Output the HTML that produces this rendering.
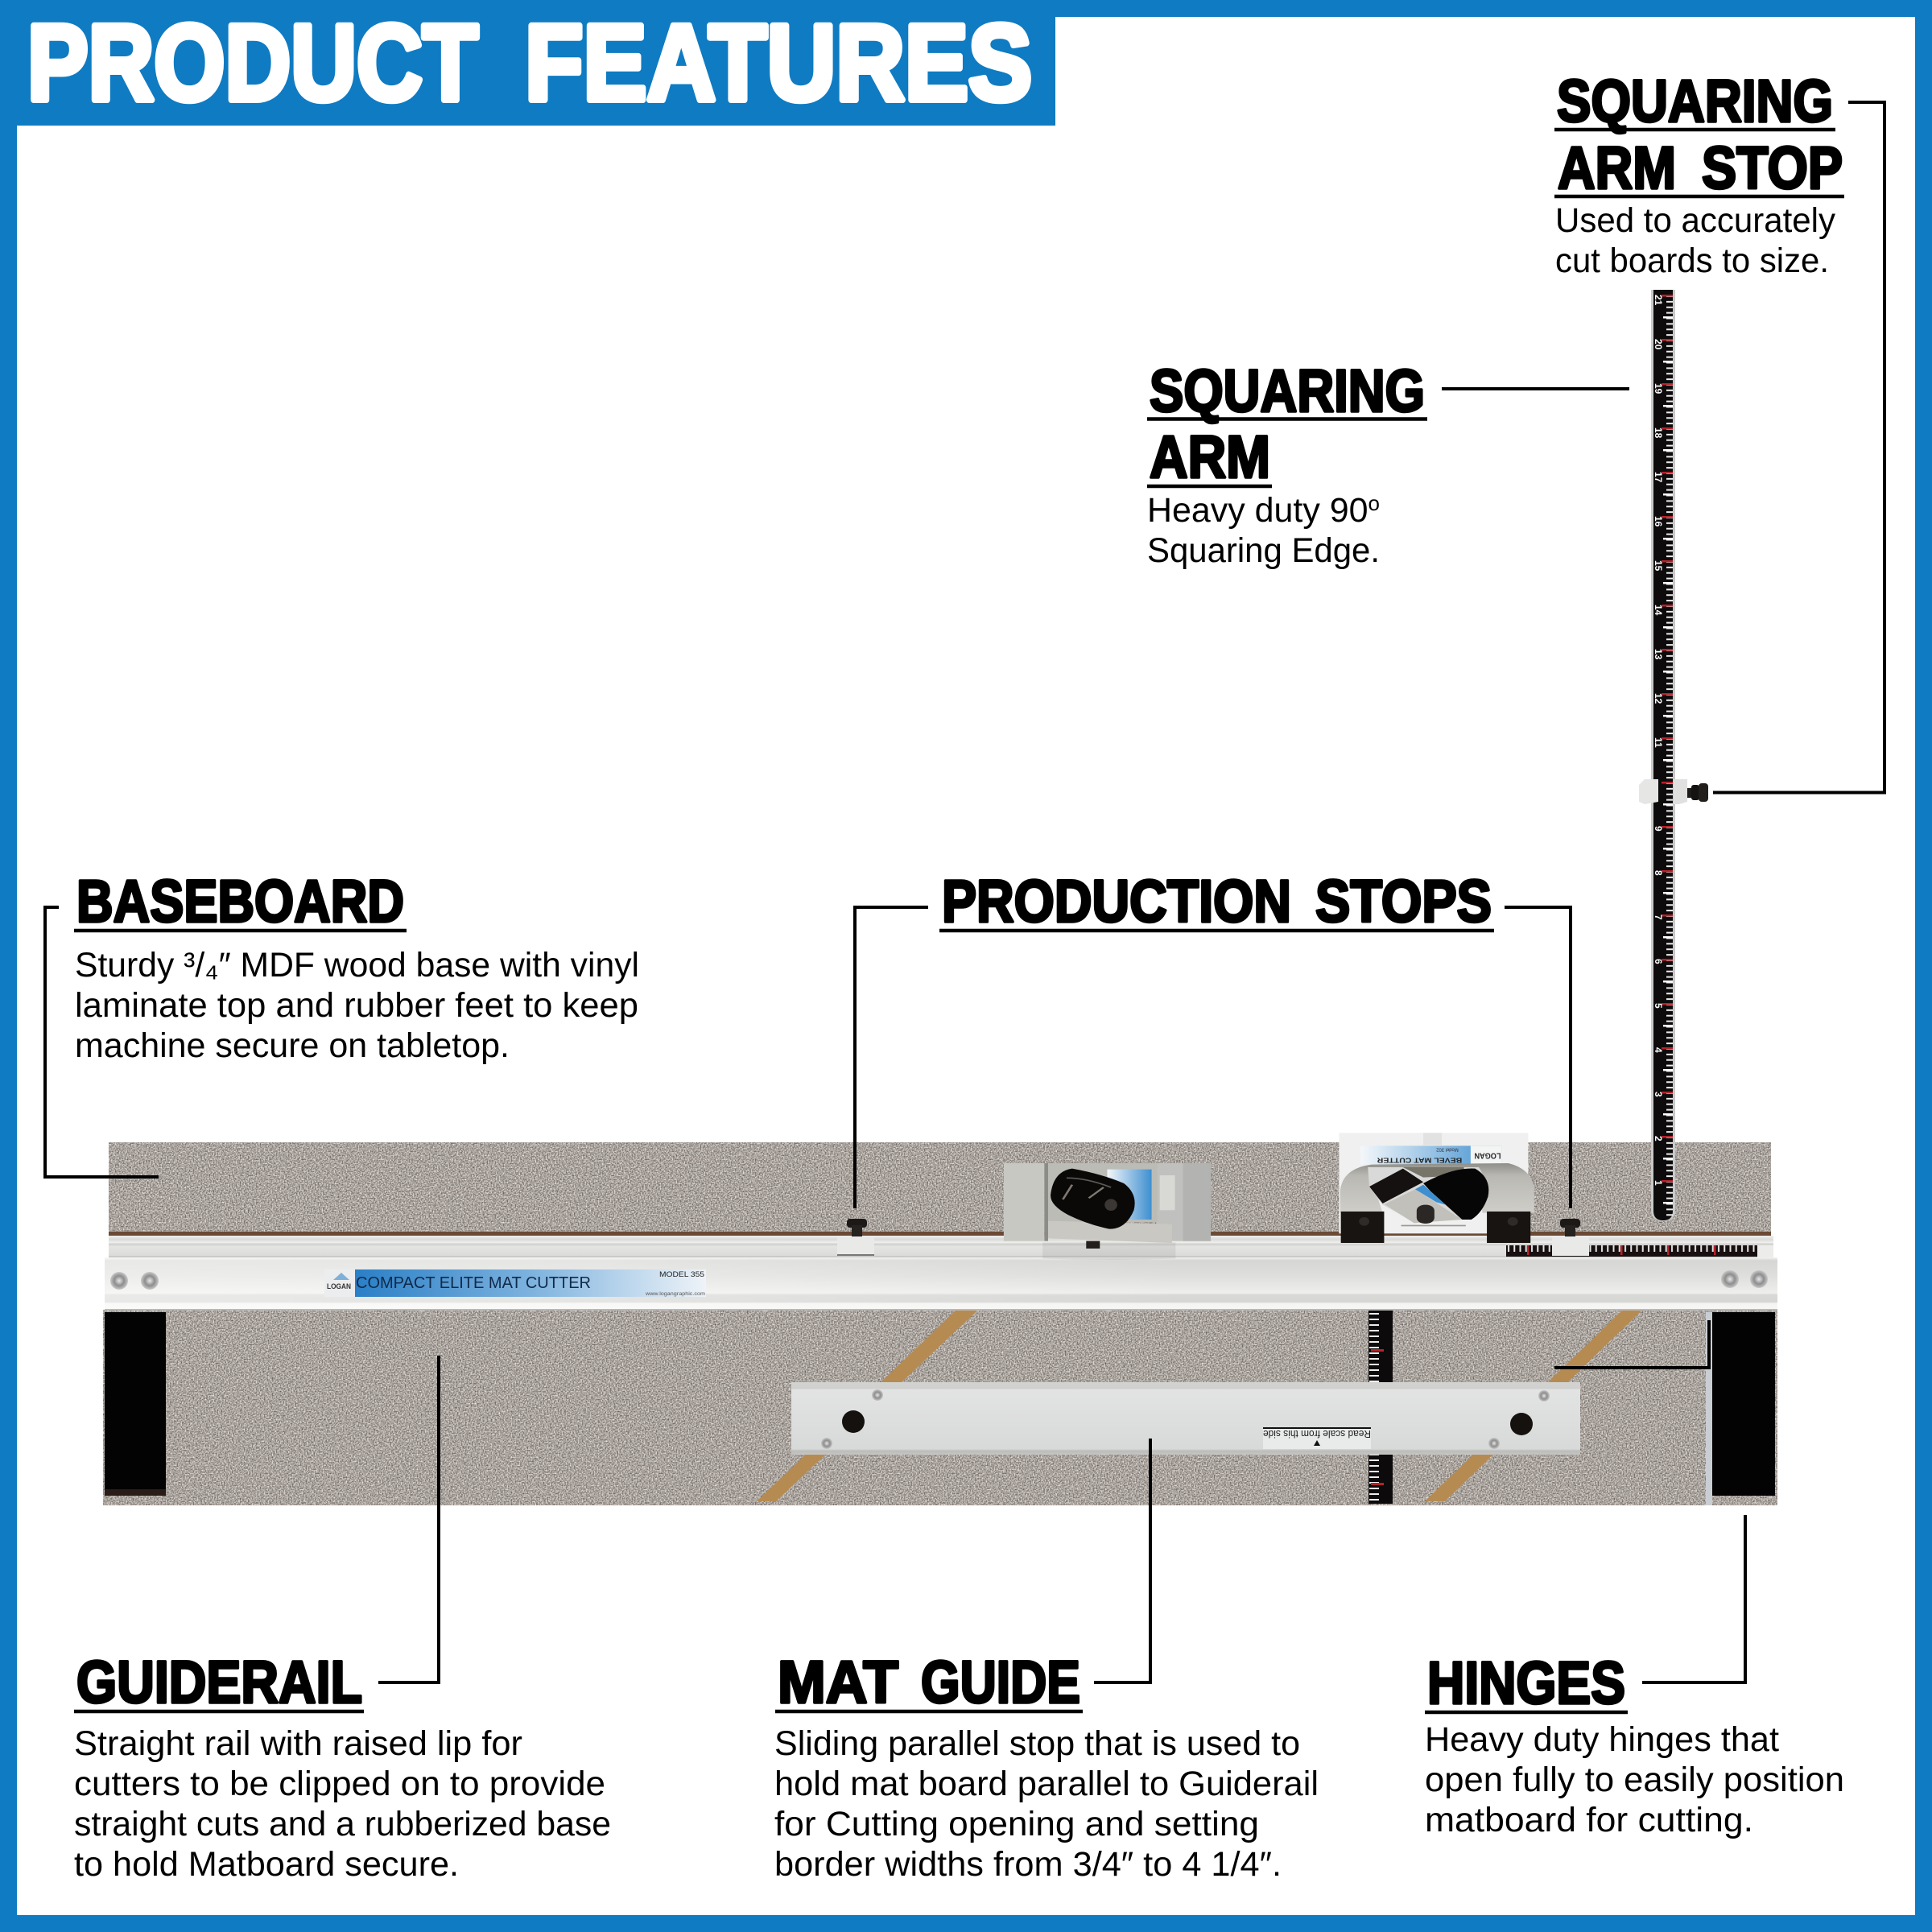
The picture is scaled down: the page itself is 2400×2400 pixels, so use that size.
<!DOCTYPE html>
<html><head><meta charset="utf-8"><title>Product Features</title>
<style>
html,body{margin:0;padding:0;background:#fff}
svg{display:block}
.h{font-family:"Liberation Sans",sans-serif;font-weight:700;font-size:74px;fill:#000;stroke:#000;stroke-width:3.5;stroke-linejoin:round}
.t{font-family:"Liberation Sans",sans-serif;font-weight:700;font-size:134px;fill:#fff;stroke:#fff;stroke-width:8;stroke-linejoin:round}
.b{font-family:"Liberation Sans",sans-serif;font-size:43px;fill:#000}
.c{fill:none;stroke:#000;stroke-width:4}
.u{stroke:#000;stroke-width:4.5}
.n{font-family:"Liberation Sans",sans-serif;font-weight:700;font-size:12px;fill:#fff}
</style></head><body>
<svg xmlns="http://www.w3.org/2000/svg" width="2400" height="2400" viewBox="0 0 2400 2400">
<defs>
<filter id="gr" x="0" y="0" width="1" height="1" color-interpolation-filters="sRGB">
<feTurbulence type="fractalNoise" baseFrequency="0.6" numOctaves="2" seed="4"/>
<feColorMatrix type="matrix" values="0.9 0 0 0 0.215  0.9 0 0 0 0.19  0.9 0 0 0 0.17  0 0 0 0 1"/>
</filter>
<pattern id="vt" width="24" height="6.875" patternUnits="userSpaceOnUse" x="2054" y="366"><rect x="16" y="1" width="8" height="2" fill="#eee"/></pattern>
<pattern id="vM" width="24" height="55" patternUnits="userSpaceOnUse" x="2054" y="366"><rect x="10" y="0" width="14" height="2.5" fill="#b5232a"/><rect x="12" y="27" width="12" height="2.5" fill="#fff"/></pattern>
<pattern id="ht" width="7.25" height="14" patternUnits="userSpaceOnUse" x="1871" y="1547"><rect x="2" y="0" width="2" height="8" fill="#e8e8e8"/></pattern>
<pattern id="hM" width="58" height="14" patternUnits="userSpaceOnUse" x="1871" y="1547"><rect x="26" y="0" width="2.5" height="12" fill="#b5232a"/></pattern>
<pattern id="ct" width="30" height="7" patternUnits="userSpaceOnUse" x="1700" y="1630"><rect x="1" y="1" width="12" height="2" fill="#eee"/></pattern>
<linearGradient id="rail" x1="0" y1="0" x2="0" y2="1">
<stop offset="0" stop-color="#f3f3f1"/><stop offset=".06" stop-color="#d6d6d4"/><stop offset=".35" stop-color="#dededc"/><stop offset=".68" stop-color="#eeeeec"/><stop offset=".72" stop-color="#d8d8d6"/><stop offset=".85" stop-color="#d6d6d4"/><stop offset=".88" stop-color="#f4f4f2"/><stop offset="1" stop-color="#f7f7f5"/>
</linearGradient>
<linearGradient id="railH" x1="0" y1="0" x2="1" y2="0">
<stop offset="0" stop-color="#fff" stop-opacity=".45"/><stop offset=".3" stop-color="#fff" stop-opacity=".35"/><stop offset=".65" stop-color="#fff" stop-opacity="0"/><stop offset="1" stop-color="#fff" stop-opacity="0"/>
</linearGradient>
<linearGradient id="up" x1="0" y1="0" x2="0" y2="1">
<stop offset="0" stop-color="#efefed"/><stop offset=".18" stop-color="#dadad8"/><stop offset=".32" stop-color="#f0f0ee"/><stop offset=".38" stop-color="#cfcfcd"/><stop offset=".5" stop-color="#e4e4e2"/><stop offset=".9" stop-color="#dcdcda"/><stop offset="1" stop-color="#bdbdbb"/>
</linearGradient>
<linearGradient id="lab" x1="0" y1="0" x2="1" y2="0">
<stop offset="0" stop-color="#2a7fc6"/><stop offset=".5" stop-color="#7db2de"/><stop offset="1" stop-color="#eef3f8"/>
</linearGradient>
<linearGradient id="card" x1="0" y1="0" x2="1" y2="0"><stop offset="0" stop-color="#f4f7fa"/><stop offset="1" stop-color="#3d8fd0"/></linearGradient>
<linearGradient id="guide" x1="0" y1="0" x2="0" y2="1">
<stop offset="0" stop-color="#d3d3d1"/><stop offset=".09" stop-color="#d0d0ce"/><stop offset=".1" stop-color="#e2e3e3"/><stop offset=".92" stop-color="#d8d9d9"/><stop offset=".95" stop-color="#bcbcba"/><stop offset="1" stop-color="#c6c6c4"/>
</linearGradient>
<radialGradient id="scr"><stop offset="0" stop-color="#e8e8e8"/><stop offset=".55" stop-color="#8d8d8d"/><stop offset="1" stop-color="#c8c8c8"/></radialGradient>
<linearGradient id="arch" x1="0" y1="0" x2="0" y2="1"><stop offset="0" stop-color="#8f8e88"/><stop offset=".25" stop-color="#b9b8b2"/><stop offset="1" stop-color="#cfcec9"/></linearGradient>
</defs>

<!-- frame -->
<rect x="0" y="0" width="2400" height="2400" fill="#0f7bc2"/>
<rect x="21" y="21" width="2358" height="2358" fill="#fff"/>
<rect x="0" y="0" width="1311" height="156" fill="#0f7bc2"/>
<text class="t" x="34" y="124" textLength="560" lengthAdjust="spacingAndGlyphs">PRODUCT</text>
<text class="t" x="652" y="124" textLength="630" lengthAdjust="spacingAndGlyphs">FEATURES</text>

<!-- upper board -->
<rect x="135" y="1419" width="2065" height="115" fill="#a9a29d" filter="url(#gr)"/>
<rect x="135" y="1530" width="2065" height="6" fill="#6b4a35"/>
<!-- lower board -->
<rect x="128" y="1627" width="2080" height="243" fill="#a9a29d" filter="url(#gr)"/>

<!-- vertical ruler -->
<path d="M2051 360 H2081 V1503 Q2081 1517 2066 1517 Q2051 1517 2051 1503Z" fill="#c9c9c9"/>
<path d="M2054 360 H2078 V1504 Q2078 1516 2066 1516 Q2054 1516 2054 1504Z" fill="#0d0b0c"/>
<rect x="2054" y="366" width="24" height="1145" fill="url(#vt)"/>
<rect x="2054" y="366" width="24" height="1145" fill="url(#vM)"/>
<g class="n">
<text transform="translate(2056 366) rotate(90)">21</text><text transform="translate(2056 421) rotate(90)">20</text><text transform="translate(2056 476) rotate(90)">19</text><text transform="translate(2056 531) rotate(90)">18</text><text transform="translate(2056 586) rotate(90)">17</text><text transform="translate(2056 641) rotate(90)">16</text><text transform="translate(2056 696) rotate(90)">15</text><text transform="translate(2056 751) rotate(90)">14</text><text transform="translate(2056 806) rotate(90)">13</text><text transform="translate(2056 861) rotate(90)">12</text><text transform="translate(2056 916) rotate(90)">11</text><text transform="translate(2056 1026) rotate(90)">9</text><text transform="translate(2056 1081) rotate(90)">8</text><text transform="translate(2056 1136) rotate(90)">7</text><text transform="translate(2056 1191) rotate(90)">6</text><text transform="translate(2056 1246) rotate(90)">5</text><text transform="translate(2056 1301) rotate(90)">4</text><text transform="translate(2056 1356) rotate(90)">3</text><text transform="translate(2056 1411) rotate(90)">2</text><text transform="translate(2056 1466) rotate(90)">1</text>
</g>
<!-- squaring arm stop -->
<path d="M2036 975 L2043 968 H2060 V996 L2043 999 L2036 996Z" fill="#e6e6e4"/>
<path d="M2079 968 H2096 V996 L2086 999 H2079Z" fill="#e0e0de"/>
<rect x="2096" y="979" width="9" height="12" fill="#1d1a18"/>
<rect x="2101" y="975" width="10" height="19" rx="3" fill="#151311"/>
<rect x="2110" y="973" width="12" height="23" rx="4" fill="#221e1b"/>

<!-- upper rail -->
<rect x="135" y="1535" width="2068" height="27" fill="url(#up)"/>
<!-- rail ruler -->
<rect x="1871" y="1547" width="312" height="14" fill="#170f10"/>
<rect x="1871" y="1547" width="312" height="14" fill="url(#ht)"/>
<rect x="1871" y="1547" width="312" height="14" fill="url(#hM)"/>
<rect x="2183" y="1547" width="20" height="15" fill="#ececea"/>
<!-- main rail -->
<rect x="130" y="1562" width="2078" height="65" fill="url(#rail)"/>
<rect x="130" y="1562" width="2078" height="65" fill="url(#railH)"/>
<rect x="130" y="1626" width="2078" height="2" fill="#b9b9b7"/>

<!-- rail screws -->
<ellipse cx="148" cy="1591" rx="11" ry="11" fill="url(#scr)"/><ellipse cx="186" cy="1591" rx="11" ry="11" fill="url(#scr)"/>
<ellipse cx="2149" cy="1589" rx="11" ry="11" fill="url(#scr)"/><ellipse cx="2185" cy="1589" rx="11" ry="11" fill="url(#scr)"/>

<!-- rail label -->
<rect x="403" y="1577" width="38" height="34" fill="#ecedef"/>
<path d="M414 1590 L424 1581 L434 1590Z" fill="#7fb0d8"/>
<text x="406" y="1601" font-family="Liberation Sans,sans-serif" font-weight="700" font-size="9" fill="#333" textLength="30" lengthAdjust="spacingAndGlyphs">LOGAN</text>
<rect x="441" y="1577" width="436" height="34" fill="url(#lab)"/>
<text x="442" y="1600" font-family="Liberation Sans,sans-serif" font-size="20" fill="#0f2a4a" textLength="292" lengthAdjust="spacingAndGlyphs">COMPACT ELITE MAT CUTTER</text>
<text x="819" y="1586" font-family="Liberation Sans,sans-serif" font-size="9" fill="#222" textLength="56" lengthAdjust="spacingAndGlyphs">MODEL 355</text>
<text x="802" y="1609" font-family="Liberation Sans,sans-serif" font-size="6" fill="#555" textLength="74" lengthAdjust="spacingAndGlyphs">www.logangraphic.com</text>

<!-- production stops -->
<rect x="1052" y="1514" width="25" height="11" rx="4" fill="#1c1917"/><rect x="1058" y="1522" width="13" height="14" fill="#26221f"/>
<rect x="1040" y="1536" width="46" height="24" fill="#e9e9e7"/><rect x="1040" y="1558" width="46" height="2" fill="#777"/>
<rect x="1938" y="1514" width="25" height="11" rx="4" fill="#1c1917"/><rect x="1944" y="1522" width="13" height="14" fill="#26221f"/>
<rect x="1928" y="1536" width="46" height="24" fill="#e9e9e7"/>

<!-- hinges -->
<rect x="130" y="1630" width="76" height="228" fill="#040303"/>
<rect x="130" y="1850" width="76" height="8" fill="#2a1d18"/>
<rect x="2119" y="1630" width="8" height="240" fill="#c9ced2"/>
<rect x="2127" y="1630" width="78" height="228" fill="#040303"/>

<!-- wood strips -->
<polygon points="1187,1628 1214,1628 964,1865 940,1865" fill="#b68b52"/>
<polygon points="2015,1628 2039,1628 1795,1865 1770,1865" fill="#b68b52"/>

<!-- center scale -->
<rect x="1700" y="1628" width="30" height="240" fill="#0c0a0b"/>
<rect x="1700" y="1630" width="30" height="236" fill="url(#ct)"/>
<rect x="1703" y="1676" width="16" height="3" fill="#b5232a"/><rect x="1703" y="1842" width="16" height="3" fill="#b5232a"/>

<!-- mat guide -->
<rect x="983" y="1717" width="980" height="90" fill="url(#guide)"/>
<ellipse cx="1060" cy="1766" rx="14" ry="14" fill="#15110f"/>
<ellipse cx="1890" cy="1769" rx="14" ry="14" fill="#15110f"/>
<circle cx="1090" cy="1733" r="7" fill="url(#scr)"/><circle cx="1027" cy="1793" r="7" fill="url(#scr)"/>
<circle cx="1918" cy="1734" r="7" fill="url(#scr)"/><circle cx="1856" cy="1793" r="7" fill="url(#scr)"/>
<rect x="1569" y="1773" width="134" height="27" fill="#e9eaea"/>
<rect x="1569" y="1773" width="134" height="2" fill="#111"/>
<text transform="translate(1703 1777) rotate(180)" font-family="Liberation Sans,sans-serif" font-size="13" fill="#222" textLength="134" lengthAdjust="spacingAndGlyphs">Read scale from this side</text>
<polygon points="1636,1789 1640,1796 1632,1796" fill="#111"/>

<!-- left cutter (zoom coords) -->
<g transform="translate(1240 1400) scale(.4592 .3333)">
<path d="M120 430 H480 V490 Q300 500 120 490Z" fill="#777" opacity=".14"/>
<rect x="15" y="135" width="110" height="290" fill="#c8c8c3"/>
<rect x="125" y="135" width="10" height="290" fill="#8b8b87"/>
<rect x="135" y="135" width="295" height="220" fill="#bcbcb7"/>
<rect x="295" y="158" width="120" height="187" fill="url(#card)"/>
<rect x="430" y="135" width="145" height="290" fill="#c0c1be"/>
<rect x="500" y="135" width="75" height="290" fill="#b3b4b2"/>
<rect x="437" y="180" width="41" height="130" fill="#d8d8d4"/>
<path d="M135 350 L470 362 V432 L135 415Z" fill="#c9c8c2"/>
<rect x="238" y="425" width="37" height="28" fill="#231f1c"/>
<path d="M142 250 Q150 165 200 155 Q280 175 340 210 Q378 250 367 310 Q345 382 300 380 Q240 362 190 328 Q138 290 142 250Z" fill="#0b0908"/>
<path d="M185 190 Q240 190 305 225" stroke="#5a5a56" stroke-width="5" fill="none"/>
<path d="M175 270 L200 215 M245 265 L285 225" stroke="#7f7a73" stroke-width="6" fill="none"/>
<ellipse cx="305" cy="290" rx="17" ry="22" fill="#3a3735"/>
</g>

<!-- right cutter (zoom coords) -->
<g transform="translate(1240 1400) scale(.4592 .3333)">
<rect x="922" y="22" width="512" height="375" fill="#eff0ef"/>
<rect x="1150" y="22" width="50" height="45" fill="#e1e2e1"/>
<rect x="980" y="70" width="382" height="70" fill="url(#card)"/>
<rect x="1278" y="70" width="84" height="70" fill="#f3f4f4"/>
<text transform="translate(1360 98) rotate(180)" font-family="Liberation Sans,sans-serif" font-weight="700" font-size="30" fill="#222" textLength="72" lengthAdjust="spacingAndGlyphs">LOGAN</text>
<text transform="translate(1255 115) rotate(180)" font-family="Liberation Sans,sans-serif" font-weight="700" font-size="24" fill="#222" textLength="230" lengthAdjust="spacingAndGlyphs">BEVEL MAT CUTTER</text>
<text transform="translate(1245 80) rotate(180)" font-family="Liberation Sans,sans-serif" font-size="18" fill="#334" textLength="60" lengthAdjust="spacingAndGlyphs">Model 302</text>
<path d="M925 320 V240 Q930 155 1010 140 L1380 135 Q1440 155 1450 225 V320 H1310 L1290 150 H1000 L1040 320Z" fill="url(#arch)"/>
<path d="M1000 150 H1300 Q1325 200 1320 270 Q1300 330 1250 345 L1125 355 L1040 290 L1004 225 Z" fill="#d8d9d8"/>
<path d="M1095 150 H1260 V180 L1150 188Z" fill="#77756a"/>
<path d="M1150 210 Q1230 150 1290 155 Q1335 190 1325 260 Q1310 320 1280 345 L1255 345 L1170 240Z" fill="#070606"/>
<path d="M1004 222 L1095 155 L1150 205 L1040 285Z" fill="#141110"/>
<path d="M1045 288 L1128 232 L1255 345 L1125 358Z" fill="#c2c0ba"/>
<path d="M1128 232 L1150 215 L1210 290 L1185 280Z" fill="#3d8fd0"/>
<rect x="1132" y="290" width="48" height="70" rx="22" fill="#2a2725"/>
<rect x="1090" y="365" width="175" height="5" fill="#9a9a98"/>
<rect x="927" y="315" width="117" height="117" fill="#181412"/>
<rect x="1322" y="315" width="118" height="117" fill="#181412"/>
<ellipse cx="990" cy="352" rx="14" ry="16" fill="#2e2b29"/><ellipse cx="1392" cy="352" rx="14" ry="16" fill="#2e2b29"/>
</g>

<!-- connectors -->
<path class="c" d="M2296 127 H2341 V984.5 H2128"/>
<path class="c" d="M1791 483 H2024"/>
<path class="c" d="M73 1127 H56 V1462 H197"/>
<path class="c" d="M1153 1127 H1062 V1501"/>
<path class="c" d="M1869 1127 H1951 V1501"/>
<path class="c" d="M1931 1699 H2123 V1640"/>
<path class="c" d="M545 1684 V2090 H470"/>
<path class="c" d="M1429 1787 V2090 H1359"/>
<path class="c" d="M2168 1882 V2090 H2040"/>

<!-- headings -->
<text class="h" x="1934" y="151" textLength="343" lengthAdjust="spacingAndGlyphs">SQUARING</text>
<line class="u" x1="1931" y1="161" x2="2280" y2="161"/>
<text class="h" x="1935" y="234" textLength="147" lengthAdjust="spacingAndGlyphs">ARM</text>
<text class="h" x="2114" y="234" textLength="175" lengthAdjust="spacingAndGlyphs">STOP</text>
<line class="u" x1="1931" y1="244" x2="2291" y2="244"/>
<text class="h" x="1428" y="511" textLength="342" lengthAdjust="spacingAndGlyphs">SQUARING</text>
<line class="u" x1="1425" y1="520.5" x2="1773" y2="520.5"/>
<text class="h" x="1428" y="593" textLength="150" lengthAdjust="spacingAndGlyphs">ARM</text>
<line class="u" x1="1425" y1="604" x2="1580" y2="604"/>
<text class="h" x="95" y="1145" textLength="407" lengthAdjust="spacingAndGlyphs">BASEBOARD</text>
<line class="u" x1="92" y1="1156" x2="505" y2="1156"/>
<text class="h" x="1170" y="1145" textLength="434" lengthAdjust="spacingAndGlyphs">PRODUCTION</text>
<text class="h" x="1634" y="1145" textLength="219" lengthAdjust="spacingAndGlyphs">STOPS</text>
<line class="u" x1="1167" y1="1156" x2="1856" y2="1156"/>
<text class="h" x="95" y="2115" textLength="355" lengthAdjust="spacingAndGlyphs">GUIDERAIL</text>
<line class="u" x1="92" y1="2126" x2="452" y2="2126"/>
<text class="h" x="966" y="2115" textLength="150" lengthAdjust="spacingAndGlyphs">MAT</text>
<text class="h" x="1144" y="2115" textLength="198" lengthAdjust="spacingAndGlyphs">GUIDE</text>
<line class="u" x1="963" y1="2126" x2="1345" y2="2126"/>
<text class="h" x="1773" y="2116" textLength="246" lengthAdjust="spacingAndGlyphs">HINGES</text>
<line class="u" x1="1770" y1="2127" x2="2022" y2="2127"/>

<!-- body -->
<text class="b" x="1932" y="288" textLength="348" lengthAdjust="spacingAndGlyphs">Used to accurately</text>
<text class="b" x="1932" y="338" textLength="340" lengthAdjust="spacingAndGlyphs">cut boards to size.</text>
<text class="b" x="1425" y="648" textLength="289" lengthAdjust="spacingAndGlyphs">Heavy duty 90<tspan font-size="26" dy="-14">o</tspan></text>
<text class="b" x="1425" y="698" textLength="289" lengthAdjust="spacingAndGlyphs">Squaring Edge.</text>
<text class="b" x="93" y="1213" textLength="701" lengthAdjust="spacingAndGlyphs">Sturdy ³/₄″ MDF wood base with vinyl</text>
<text class="b" x="93" y="1263" textLength="700" lengthAdjust="spacingAndGlyphs">laminate top and rubber feet to keep</text>
<text class="b" x="93" y="1313" textLength="540" lengthAdjust="spacingAndGlyphs">machine secure on tabletop.</text>
<text class="b" x="92" y="2180" textLength="557" lengthAdjust="spacingAndGlyphs">Straight rail with raised lip for</text>
<text class="b" x="92" y="2230" textLength="660" lengthAdjust="spacingAndGlyphs">cutters to be clipped on to provide</text>
<text class="b" x="92" y="2280" textLength="667" lengthAdjust="spacingAndGlyphs">straight cuts and a rubberized base</text>
<text class="b" x="92" y="2330" textLength="478" lengthAdjust="spacingAndGlyphs">to hold Matboard secure.</text>
<text class="b" x="962" y="2180" textLength="653" lengthAdjust="spacingAndGlyphs">Sliding parallel stop that is used to</text>
<text class="b" x="962" y="2230" textLength="676" lengthAdjust="spacingAndGlyphs">hold mat board parallel to Guiderail</text>
<text class="b" x="962" y="2280" textLength="602" lengthAdjust="spacingAndGlyphs">for Cutting opening and setting</text>
<text class="b" x="962" y="2330" textLength="630" lengthAdjust="spacingAndGlyphs">border widths from 3/4″ to 4 1/4″.</text>
<text class="b" x="1770" y="2175" textLength="440" lengthAdjust="spacingAndGlyphs">Heavy duty hinges that</text>
<text class="b" x="1770" y="2225" textLength="521" lengthAdjust="spacingAndGlyphs">open fully to easily position</text>
<text class="b" x="1770" y="2275" textLength="408" lengthAdjust="spacingAndGlyphs">matboard for cutting.</text>
</svg>
</body></html>
